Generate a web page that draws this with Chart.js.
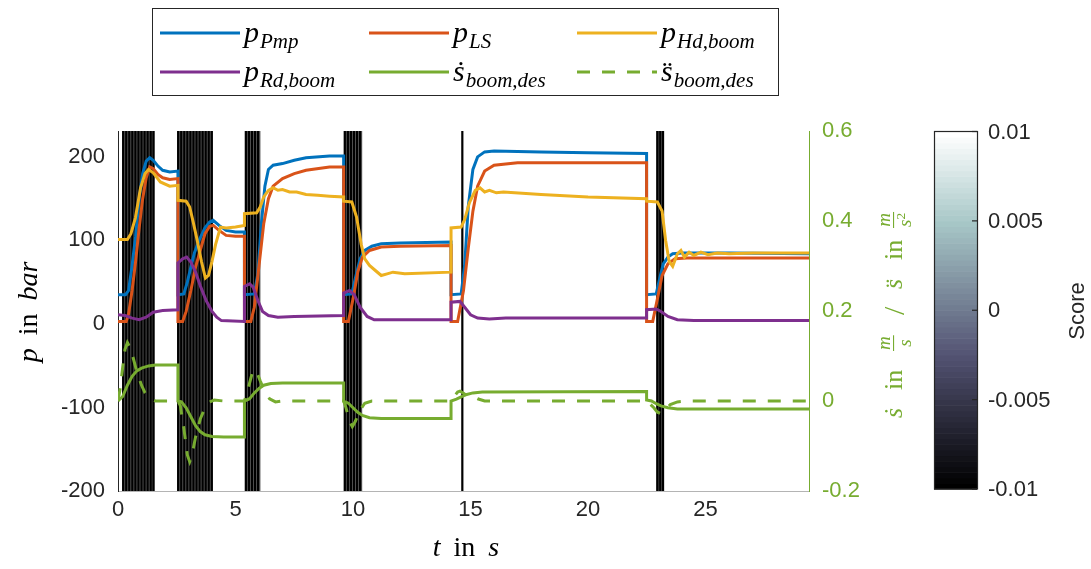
<!DOCTYPE html>
<html>
<head>
<meta charset="utf-8">
<script src="https://cdn.jsdelivr.net/npm/chart.js@4.4.1/dist/chart.umd.min.js"></script>
<style>
  html, body { margin: 0; padding: 0; background: #fff; }
  #wrap { width: 1091px; height: 569px; }
</style>
</head>
<body>
<div id="wrap"><canvas id="chart" width="1091" height="569"></canvas></div>
<script>
// time in s, pressures in bar (left axis), boom velocity / acceleration (right axis)
const tPmp = [0,0.32,0.45,0.6,0.75,0.9,1.05,1.2,1.35,1.5,1.7,1.9,2.2,2.55,
  2.55,2.8,2.95,3.1,3.25,3.45,3.7,3.9,4.05,4.3,4.6,5.0,5.38,
  5.38,5.8,5.95,6.1,6.25,6.4,6.6,7.0,7.5,8.0,9.0,9.6,
  9.6,9.95,10.1,10.3,10.5,10.8,11.2,12,14.17,
  14.17,14.6,14.75,14.9,15.1,15.3,15.6,16,18,20,22.49,
  22.49,22.9,23.05,23.2,23.4,23.6,24,26,29.4];
const pPmp = [35,35,40,70,105,150,180,195,199,196,189,184,182,183,
  35,36,50,68,85,100,115,122,124,118,112,110,110,
  35,36,60,120,165,185,190,192,196,199,201,201,
  35,36,55,78,88,93,96,97,98,
  35,36,70,140,185,200,206,207,206,205,204,
  35,36,55,72,80,84,85,85,84];

const tLS = [0,0.35,0.45,0.6,0.75,0.9,1.05,1.2,1.35,1.5,1.7,1.9,2.2,2.55,
  2.55,2.75,2.9,3.1,3.3,3.5,3.7,3.9,4.05,4.3,4.6,5.0,5.38,
  5.38,5.65,5.8,6.0,6.2,6.4,6.6,7.0,7.5,8.0,9.0,9.6,
  9.6,9.8,10.0,10.2,10.4,10.7,11.2,12,14.17,
  14.17,14.45,14.7,14.9,15.1,15.3,15.6,16,17,20,22.49,
  22.49,22.75,22.95,23.15,23.4,23.7,24.2,26,29.4];
const pLS = [3,3,12,40,75,115,150,175,188,186,179,175,173,174,
  3,3,15,40,68,88,108,117,118,112,106,105,105,
  3,3,20,70,120,150,165,174,180,184,188,188,
  3,3,30,62,80,88,92,93,94,
  3,3,40,90,135,165,183,190,193,193,193,
  3,3,30,58,72,78,79,79,79];

const tHd = [0,0.4,0.55,0.74,0.96,1.15,1.3,1.5,1.8,2.2,2.55,
  2.55,2.9,3.05,3.2,3.37,3.55,3.72,3.85,4.0,4.15,4.36,4.6,5.0,5.38,
  5.38,5.9,6.05,6.2,6.4,6.6,6.8,7.0,7.3,7.6,8.0,8.5,9.0,9.6,
  9.6,9.95,10.15,10.35,10.5,10.7,10.95,11.2,11.45,11.7,12.2,14.17,
  14.17,14.6,14.75,14.95,15.2,15.4,15.6,15.8,16.1,16.4,18,20,22.49,
  22.49,22.95,23.15,23.3,23.45,23.6,23.8,23.95,24.1,24.3,24.5,24.8,25.1,25.5,26,27,29.4];
const pHd = [101,101,108,127,163,180,185,181,170,165,166,
  148,147,140,122,100,75,55,58,75,95,116,115,116,118,
  132,133,140,152,160,163,160,161,158,158,155,154,153,152,
  147,146,128,95,78,70,64,58,60,62,60,62,
  115,116,125,145,160,163,158,160,157,158,155,152,150,
  147,146,135,100,75,69,84,88,80,86,82,86,83,85,84,85,85];

const tRd = [0,0.3,0.6,0.9,1.2,1.5,1.9,2.55,
  2.55,2.75,2.92,3.1,3.3,3.51,3.75,4.0,4.2,4.4,5.38,
  5.38,5.6,5.75,5.95,6.15,6.4,6.8,7.5,9.6,
  9.6,9.85,10.05,10.3,10.6,10.9,11.5,14.17,
  14.17,14.55,14.75,15.0,15.3,15.8,16.5,22.49,
  22.49,22.9,23.1,23.4,23.8,24.5,29.4];
const pRd = [11,10,7,5,8,14,16,17,
  73,78,80,74,62,45,28,15,8,4,3,
  45,48,44,28,15,10,8,9,10,
  37,40,35,20,9,5,5,5,
  26,27,20,11,7,6,7,7,
  17,18,15,9,5,4,4];

const tSd = [0,0.2,0.4,0.6,0.8,1.0,1.3,1.6,2.55,
  2.55,2.7,2.9,3.1,3.3,3.5,3.7,4.0,4.5,5.38,
  5.38,5.6,5.8,6.0,6.2,6.5,7.0,9.6,
  9.6,9.8,10.0,10.2,10.4,10.7,11.2,14.17,
  14.17,14.4,14.6,14.8,15.1,15.5,22.49,
  22.49,22.7,22.9,23.1,23.4,23.8,29.4];
const sDot = [0,0.01,0.035,0.055,0.067,0.073,0.078,0.08,0.08,
  0,-0.002,-0.015,-0.035,-0.055,-0.068,-0.075,-0.079,-0.08,-0.08,
  0,0.005,0.018,0.028,0.035,0.039,0.04,0.04,
  0,-0.005,-0.015,-0.025,-0.032,-0.037,-0.039,-0.039,
  0,0.004,0.009,0.014,0.018,0.02,0.021,
  0.002,0,-0.006,-0.011,-0.015,-0.018,-0.018];

const tSdd = [0,0.1,0.2,0.3,0.4,0.5,0.65,0.8,1.0,1.15,1.35,1.6,2.55,
  2.55,2.65,2.8,2.95,3.05,3.15,3.3,3.5,3.7,3.9,4.1,4.5,5.38,
  5.38,5.55,5.7,5.8,5.9,6.05,6.25,6.45,6.7,7.0,9.6,
  9.6,9.7,9.85,9.97,10.1,10.3,10.5,10.8,14.17,
  14.17,14.3,14.45,14.55,14.7,14.9,15.1,15.3,15.6,22.49,
  22.49,22.6,22.8,22.95,23.1,23.3,23.5,23.8,24.2,29.4];
const sDdot = [0,0.03,0.075,0.115,0.13,0.12,0.095,0.065,0.035,0.018,0.006,0,0,
  0,-0.01,-0.06,-0.12,-0.135,-0.12,-0.08,-0.04,-0.015,-0.002,0.002,0,0,
  0,0.03,0.06,0.07,0.065,0.045,0.02,0.005,-0.002,0,0,
  0,-0.015,-0.045,-0.057,-0.045,-0.02,-0.005,0,0,
  0,0.01,0.02,0.022,0.017,0.01,0.01,0.005,0,0,
  0,-0.005,-0.015,-0.025,-0.028,-0.018,-0.008,-0.002,0,0];

// score marks (vertical lines) and the dense regions they form
const scoreRegionStart = [0.18, 2.52, 5.40, 9.61, 22.90];
const scoreRegionEnd = [1.55, 4.03, 6.06, 10.39, 23.23];
const scoreTimes = [0.22,0.35,0.48,0.61,0.74,0.87,1.0,1.13,1.26,1.39,1.51,
  2.56,2.69,2.82,2.95,3.08,3.21,3.34,3.47,3.6,3.73,3.86,3.99,
  5.44,5.57,5.7,5.83,5.96,
  9.65,9.78,9.91,10.04,10.17,10.3,
  14.65,
  22.95,23.07,23.19];
const scoreLineValue = -0.01;

// axes
const xMax = 29.4;
const xTicks = [0, 5, 10, 15, 20, 25];
const yTicks = [-200, -100, 0, 100, 200];
const y2Ticks = [-0.2, 0, 0.2, 0.4, 0.6];
const cbTicks = [-0.01, -0.005, 0, 0.005, 0.01];
const cbTickLabels = ["-0.01", "-0.005", "0", "0.005", "0.01"];

const seriesNames = [["p", "Pmp"], ["p", "LS"], ["p", "Hd,boom"],
  ["p", "Rd,boom"], ["\u1E61", "boom,des"], ["s\u0308", "boom,des"]];

const GREEN = "#77AC30";
const MATH = '"Liberation Serif", "Times New Roman", serif';
const SANS = '"Liberation Sans", Arial, Helvetica, sans-serif';

function pts(t, v) {
  return t.map((x, i) => ({ x: x, y: v[i] }));
}

// MATLAB bone colormap
function bone(f) {
  const r = Math.min(1, f / 0.375);
  const g = Math.min(1, Math.max(0, (f - 0.375) / 0.375));
  const b = Math.min(1, Math.max(0, (f - 0.75) / 0.25));
  return [(7 * f + b) / 8, (7 * f + g) / 8, (7 * f + r) / 8];
}
function boneCss(v) {
  const f = (v - cbTicks[0]) / (cbTicks[cbTicks.length - 1] - cbTicks[0]);
  const c = bone(Math.min(1, Math.max(0, f)));
  return "rgb(" + c.map(u => Math.round(u * 255)).join(",") + ")";
}

const scorePlugin = {
  id: "scoreLines",
  beforeDatasetsDraw(chart) {
    const { ctx, chartArea: a, scales: { x } } = chart;
    ctx.save();
    ctx.fillStyle = "#5c5c5c";
    scoreRegionStart.forEach((s, i) => {
      const x0 = x.getPixelForValue(s);
      const x1 = x.getPixelForValue(scoreRegionEnd[i]);
      ctx.fillRect(x0, a.top, x1 - x0, a.bottom - a.top);
    });
    ctx.fillStyle = boneCss(scoreLineValue);
    scoreTimes.forEach(t => {
      const px = x.getPixelForValue(t);
      ctx.fillRect(px - 1.1, a.top, 2.2, a.bottom - a.top);
    });
    ctx.restore();
  }
};

function italic(px) { return "italic " + px + "px " + MATH; }
function roman(px) { return px + "px " + MATH; }

function drawFrac(ctx, num, den, sup, at, size) {
  ctx.font = italic(size);
  const wn = ctx.measureText(num).width;
  const wd = ctx.measureText(den).width;
  ctx.font = roman(size * 0.7);
  const ws = sup ? ctx.measureText(sup).width : 0;
  const w = Math.max(wn, wd + ws) + 2;
  ctx.font = italic(size);
  ctx.fillText(num, at + (w - wn) / 2, -12);
  ctx.fillText(den, at + (w - wd - ws) / 2, 9);
  if (sup) {
    ctx.font = roman(size * 0.7);
    ctx.fillText(sup, at + (w - wd - ws) / 2 + wd, 3);
  }
  ctx.fillRect(at, -9, w, 1.1);
  return w;
}

function drawRow(ctx, parts, cx, y, gap) {
  let total = 0;
  parts.forEach(p => { ctx.font = p[1]; total += ctx.measureText(p[0]).width; });
  total += gap * (parts.length - 1);
  let x = cx - total / 2;
  parts.forEach(p => {
    ctx.font = p[1];
    ctx.fillText(p[0], x, y);
    x += ctx.measureText(p[0]).width + gap;
  });
}

const decorPlugin = {
  id: "decor",
  afterDraw(chart) {
    const ctx = chart.ctx;
    ctx.save();
    ctx.textAlign = "left";
    ctx.textBaseline = "alphabetic";

    // legend
    ctx.fillStyle = "#fff";
    ctx.fillRect(152, 8, 626, 87);
    ctx.strokeStyle = "#262626";
    ctx.lineWidth = 1;
    ctx.strokeRect(152.5, 8.5, 626, 87);
    const cols = [160, 369, 577], rows = [33, 72];
    chart.data.datasets.forEach((ds, i) => {
      const cx = cols[i % 3], cy = rows[Math.floor(i / 3)];
      ctx.strokeStyle = ds.borderColor;
      ctx.lineWidth = 3;
      ctx.setLineDash(ds.borderDash || []);
      ctx.beginPath();
      ctx.moveTo(cx, cy);
      ctx.lineTo(cx + 80, cy);
      ctx.stroke();
      ctx.setLineDash([]);
      const [m, s] = seriesNames[i];
      ctx.fillStyle = "#000";
      ctx.font = italic(30);
      ctx.fillText(m, cx + 84, cy + 9);
      const w = ctx.measureText(m).width;
      ctx.font = italic(21);
      ctx.fillText(s, cx + 85 + w, cy + 15);
    });

    // x title
    ctx.fillStyle = "#000";
    drawRow(ctx, [["t", italic(28)], ["in", roman(28)], ["s", italic(28)]], 466, 556, 13);

    // left title
    ctx.save();
    ctx.translate(37, 312);
    ctx.rotate(-Math.PI / 2);
    drawRow(ctx, [["p", italic(28)], ["in", roman(28)], ["bar", italic(28)]], 0, 0, 13);
    ctx.restore();

    // right title
    ctx.save();
    ctx.fillStyle = GREEN;
    ctx.translate(902, 418);
    ctx.rotate(-Math.PI / 2);
    ctx.font = italic(26);
    ctx.fillText("\u1E61", 0, 0);
    ctx.font = roman(26);
    ctx.fillText("in", 28, 0);
    drawFrac(ctx, "m", "s", "", 67, 19);
    ctx.font = roman(30);
    ctx.fillText("/", 103, 2);
    ctx.font = italic(26);
    ctx.fillText("s\u0308", 129, 0);
    ctx.font = roman(26);
    ctx.fillText("in", 158, 0);
    drawFrac(ctx, "m", "s", "2", 190, 19);
    ctx.restore();

    // colorbar
    const cbX = 934, cbW = 43, cbTop = 131.5, cbBot = 489;
    const n = 64, h = (cbBot - cbTop) / n;
    for (let i = 0; i < n; i++) {
      const c = bone(i / (n - 1));
      ctx.fillStyle = "rgb(" + c.map(u => Math.round(u * 255)).join(",") + ")";
      ctx.fillRect(cbX, cbBot - (i + 1) * h, cbW, h + 0.6);
    }
    ctx.strokeStyle = "#262626";
    ctx.lineWidth = 1.2;
    ctx.strokeRect(cbX + 0.5, cbTop, cbW, cbBot - cbTop);
    ctx.fillStyle = "#262626";
    ctx.font = "22px " + SANS;
    ctx.textBaseline = "middle";
    const lo = cbTicks[0], hi = cbTicks[cbTicks.length - 1];
    cbTicks.forEach((v, i) => {
      const y = cbBot - (v - lo) / (hi - lo) * (cbBot - cbTop);
      ctx.fillRect(cbX + cbW - 5, y - 0.6, 5, 1.2);
      ctx.fillText(cbTickLabels[i], 988, y + 1);
    });
    ctx.save();
    ctx.translate(1078, 311);
    ctx.rotate(-Math.PI / 2);
    ctx.textAlign = "center";
    ctx.font = "22px " + SANS;
    ctx.fillText("Score", 0, 0);
    ctx.restore();

    ctx.restore();
  }
};

const tickFont = { family: SANS, size: 22 };

new Chart(document.getElementById("chart"), {
  type: "line",
  data: {
    datasets: [
      { label: "pPmp", data: pts(tPmp, pPmp), borderColor: "#0072BD", yAxisID: "y", order: 6 },
      { label: "pLS", data: pts(tLS, pLS), borderColor: "#D95319", yAxisID: "y", order: 5 },
      { label: "pHd,boom", data: pts(tHd, pHd), borderColor: "#EDB120", yAxisID: "y", order: 4 },
      { label: "pRd,boom", data: pts(tRd, pRd), borderColor: "#7E2F8E", yAxisID: "y", order: 3 },
      { label: "s_dot boom,des", data: pts(tSd, sDot), borderColor: GREEN, yAxisID: "y2", order: 2 },
      { label: "s_ddot boom,des", data: pts(tSdd, sDdot), borderColor: GREEN, borderDash: [13, 12], yAxisID: "y2", order: 1 }
    ]
  },
  options: {
    responsive: false,
    animation: false,
    devicePixelRatio: 1,
    layout: { padding: { left: 0, right: 202, top: 131, bottom: 38 } },
    elements: {
      line: { borderWidth: 3, tension: 0, fill: false },
      point: { radius: 0, hoverRadius: 0 }
    },
    plugins: { legend: { display: false }, tooltip: { enabled: false } },
    scales: {
      x: {
        type: "linear", min: 0, max: xMax,
        afterBuildTicks: s => { s.ticks = xTicks.map(v => ({ value: v })); },
        afterFit: s => { s.height = 40; },
        grid: { display: true, drawOnChartArea: false, drawTicks: false },
        border: { display: true, color: "#b4b4b4", width: 1, dash: [2, 2] },
        ticks: { font: tickFont, color: "#262626", padding: 6, maxRotation: 0 }
      },
      y: {
        position: "left", min: -200, max: 231,
        afterBuildTicks: s => { s.ticks = yTicks.map(v => ({ value: v })); },
        afterFit: s => { s.width = 118; },
        grid: { display: true, drawOnChartArea: false, drawTicks: false },
        border: { display: true, color: "#262626", width: 1 },
        ticks: { font: tickFont, color: "#262626", padding: 13 }
      },
      y2: {
        position: "right", min: -0.2, max: 0.6,
        afterBuildTicks: s => { s.ticks = y2Ticks.map(v => ({ value: v })); },
        afterFit: s => { s.width = 80; },
        grid: { display: true, drawOnChartArea: false, drawTicks: false },
        border: { display: true, color: GREEN, width: 1 },
        ticks: { font: tickFont, color: GREEN, padding: 13, callback: v => String(Math.round(v * 10) / 10) }
      }
    }
  },
  plugins: [scorePlugin, decorPlugin]
});
</script>
</body>
</html>
